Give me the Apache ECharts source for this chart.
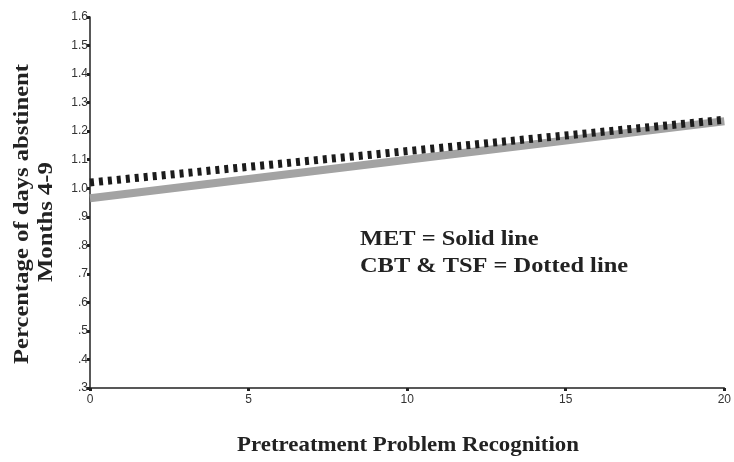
<!DOCTYPE html>
<html>
<head>
<meta charset="utf-8">
<script src="https://cdn.jsdelivr.net/npm/echarts@6/dist/echarts.min.js"></script>
<style>
html,body{margin:0;padding:0;background:#fff;}
#chart{width:734px;height:462px;}
</style>
</head>
<body>
<div id="chart"></div>
<script>
// Data
var xValues = [0, 20];
var metValues = [0.965, 1.235];      // MET = Solid line
var cbtTsfValues = [1.02, 1.24];     // CBT & TSF = Dotted line
var xTicks = [0, 5, 10, 15, 20];
var yTicks = [0.3, 0.4, 0.5, 0.6, 0.7, 0.8, 0.9, 1.0, 1.1, 1.2, 1.3, 1.4, 1.5, 1.6];

function pairs(xs, ys) { return xs.map(function (x, i) { return [x, ys[i]]; }); }

var chart = echarts.init(document.getElementById('chart'));
var serif = '"Liberation Serif", "DejaVu Serif", serif';
var narrow = '"Liberation Sans Narrow", "Liberation Sans", sans-serif';

chart.setOption({
  animation: false,
  backgroundColor: '#fff',
  grid: { left: 90, right: 8, top: 17, bottom: 74, containLabel: false },
  xAxis: {
    type: 'value', min: xTicks[0], max: xTicks[xTicks.length - 1], interval: 5,
    axisLine: { show: true, lineStyle: { color: '#222', width: 1.5 } },
    axisTick: { show: true, length: 3, lineStyle: { color: '#222', width: 3 } },
    axisLabel: { color: '#333', fontFamily: narrow, fontSize: 12, margin: 6 },
    splitLine: { show: false }
  },
  yAxis: {
    type: 'value', min: yTicks[0], max: yTicks[yTicks.length - 1], interval: 0.1,
    axisLine: { show: true, lineStyle: { color: '#222', width: 1.5 } },
    axisTick: { show: true, length: 3, lineStyle: { color: '#222', width: 3 } },
    axisLabel: {
      color: '#333', fontFamily: narrow, fontSize: 12, margin: 2,
      formatter: function (v) { var s = (Math.round(v * 10) / 10).toFixed(1); return v < 1 ? s.replace(/^0/, '') : s; }
    },
    splitLine: { show: false }
  },
  series: [
    {
      name: 'MET', type: 'line', data: pairs(xValues, metValues),
      symbol: 'none', z: 2,
      lineStyle: { color: '#a3a3a3', width: 8, cap: 'butt' }
    },
    {
      name: 'CBT & TSF', type: 'line', data: pairs(xValues, cbtTsfValues),
      symbol: 'none', z: 3,
      lineStyle: { color: '#1c1c1c', width: 8, type: [4, 5], cap: 'butt' }
    }
  ],
  graphic: [
    { type: 'text', x: 22, y: 214, rotation: Math.PI / 2, scaleX: 1.12,
      style: { text: 'Percentage of days abstinent', font: 'bold 22px ' + serif, fill: '#222', align: 'center', verticalAlign: 'middle' } },
    { type: 'text', x: 46, y: 222, rotation: Math.PI / 2, scaleX: 1.12,
      style: { text: 'Months 4-9', font: 'bold 22px ' + serif, fill: '#222', align: 'center', verticalAlign: 'middle' } },
    { type: 'text', x: 408, y: 445, scaleX: 1.04,
      style: { text: 'Pretreatment Problem Recognition', font: 'bold 22px ' + serif, fill: '#222', align: 'center', verticalAlign: 'middle' } },
    { type: 'text', x: 360, y: 240, scaleX: 1.22,
      style: { text: 'MET = Solid line', font: 'bold 20px ' + serif, fill: '#222', align: 'left', verticalAlign: 'middle' } },
    { type: 'text', x: 360, y: 267, scaleX: 1.22,
      style: { text: 'CBT & TSF = Dotted line', font: 'bold 20px ' + serif, fill: '#222', align: 'left', verticalAlign: 'middle' } }
  ]
});
</script>
</body>
</html>
